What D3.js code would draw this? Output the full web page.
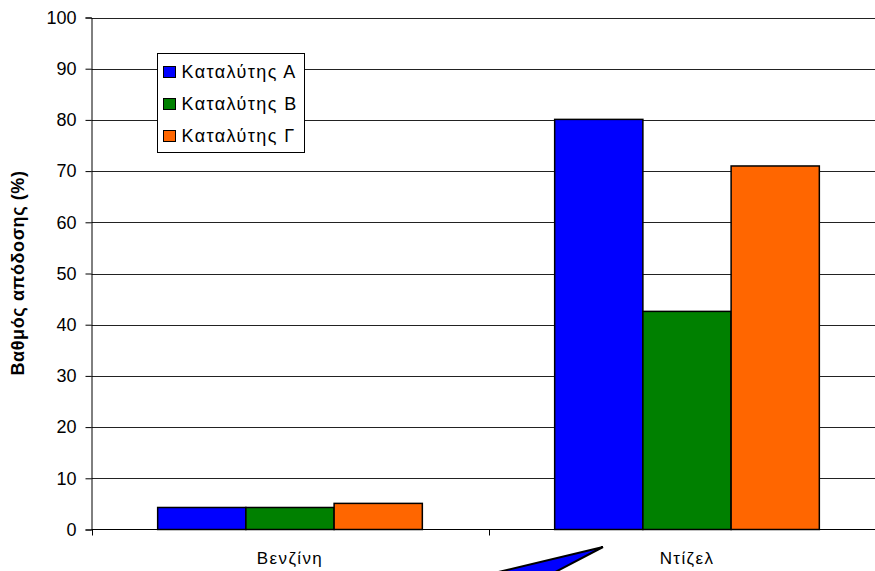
<!DOCTYPE html>
<html>
<head>
<meta charset="utf-8">
<script src="https://cdn.jsdelivr.net/npm/d3@7"></script>
<style>
  html, body { margin: 0; padding: 0; background: #fff; }
  svg { display: block; font-family: "Liberation Sans", Arial, sans-serif; }
</style>
</head>
<body>
<svg id="chart" width="875" height="571"></svg>
<script>
// Fuel categories and catalyst series (yield %)
const categories = ["Βενζίνη", "Ντίζελ"];
const seriesNames = ["Καταλύτης Α", "Καταλύτης Β", "Καταλύτης Γ"];
const catalystA = [4.3, 80.1];
const catalystB = [4.3, 42.6];
const catalystC = [5.1, 71.0];
const seriesValues = [catalystA, catalystB, catalystC];
const seriesColors = ["#0000ff", "#008000", "#ff6600"];
const yTicks = [0, 10, 20, 30, 40, 50, 60, 70, 80, 90, 100];
const yTitle = "Βαθμός απόδοσης (%)";

const svg = d3.select("#chart");
const plotLeft = 91.5, plotRight = 885.5, plotTop = 17.5, plotBottom = 529.5;

const x = d3.scaleBand().domain(categories).range([plotLeft, plotRight]).paddingInner(0).paddingOuter(0);
const xInner = d3.scaleBand().domain(seriesNames).range([0, x.bandwidth()])
  .paddingInner(0).paddingOuter(0.75);
const y = d3.scaleLinear().domain([0, 100]).range([plotBottom, plotTop]);

// Horizontal gridlines
svg.append("g").selectAll("line").data(yTicks.filter(d => d > 0)).join("line")
  .attr("x1", plotLeft).attr("x2", plotRight)
  .attr("y1", d => Math.round(y(d)) + 0.5).attr("y2", d => Math.round(y(d)) + 0.5)
  .attr("stroke", "#222").attr("stroke-width", 1);

// Bars
const groups = svg.append("g").selectAll("g").data(seriesNames).join("g");
groups.selectAll("rect")
  .data((s, i) => categories.map((c, j) => ({ c, s, v: seriesValues[i][j], color: seriesColors[i] })))
  .join("rect")
  .attr("x", d => x(d.c) + xInner(d.s))
  .attr("width", xInner.bandwidth())
  .attr("y", d => y(d.v))
  .attr("height", d => y(0) - y(d.v))
  .attr("fill", d => d.color)
  .attr("stroke", "#000").attr("stroke-width", 1.5);

// Y axis
const yAxis = d3.axisLeft(y).tickValues(yTicks).tickSize(6).tickPadding(9);
const gy = svg.append("g").attr("transform", `translate(${plotLeft},0)`).call(yAxis);
gy.select(".domain").attr("stroke", "#000");
gy.selectAll(".tick line").attr("stroke", "#000");
gy.selectAll("text").attr("font-size", 18).attr("fill", "#000")
  .attr("font-family", "Liberation Sans, Arial, sans-serif");

// X axis baseline and category boundary ticks
svg.append("line").attr("x1", plotLeft).attr("x2", plotRight)
  .attr("y1", plotBottom).attr("y2", plotBottom).attr("stroke", "#000");
const bounds = categories.map(c => x(c)).concat([plotRight]);
svg.append("g").selectAll("line").data(bounds).join("line")
  .attr("x1", d => Math.round(d) + 0.5).attr("x2", d => Math.round(d) + 0.5)
  .attr("y1", plotBottom).attr("y2", plotBottom + 6).attr("stroke", "#000");
svg.append("g").selectAll("text").data(categories).join("text")
  .attr("x", d => x(d) + x.bandwidth() / 2)
  .attr("y", 564)
  .attr("text-anchor", "middle")
  .attr("font-size", 17)
  .attr("letter-spacing", 1.4)
  .text(d => d);

// Y axis title
svg.append("text")
  .attr("transform", "translate(24,273) rotate(-90)")
  .attr("text-anchor", "middle")
  .attr("font-size", 18).attr("font-weight", "bold")
  .attr("letter-spacing", 0.6)
  .text(yTitle);

// Legend
const lg = svg.append("g").attr("transform", "translate(157.5,53.5)");
lg.append("rect").attr("width", 147).attr("height", 99)
  .attr("fill", "#fff").attr("stroke", "#000").attr("stroke-width", 1);
const items = lg.selectAll("g").data(seriesNames).join("g")
  .attr("transform", (d, i) => `translate(6,${13 + i * 32})`);
items.append("rect").attr("width", 12).attr("height", 11)
  .attr("fill", (d, i) => seriesColors[i]).attr("stroke", "#000").attr("stroke-width", 1);
items.append("text").attr("x", 18).attr("y", 11)
  .attr("font-size", 18).attr("letter-spacing", 1.4).text(d => d);

// Callout pointer shape near the bottom edge
svg.append("polygon")
  .attr("points", "603,547 465,580 540,580")
  .attr("fill", "#0000ff").attr("stroke", "#000").attr("stroke-width", 2)
  .attr("stroke-linejoin", "miter");
</script>
</body>
</html>
